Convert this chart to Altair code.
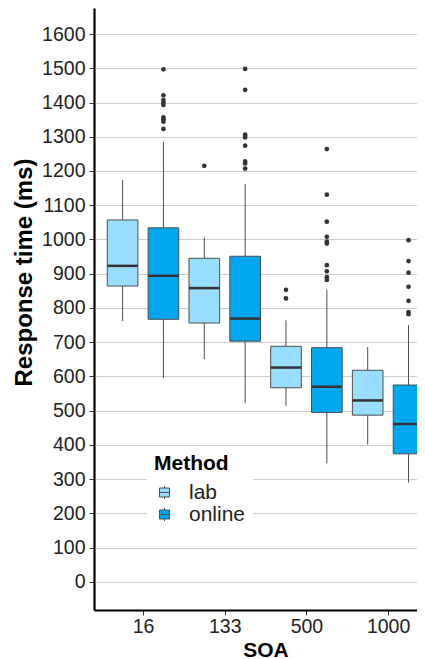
import json
import altair as alt
import pandas as pd

# ---- data ----
soa = ["16", "133", "500", "1000"]
methods = ["lab", "online"]

lab_lower = [762, 651, 514, 401]
lab_q1 = [864, 756, 567, 487]
lab_median = [923, 858, 626, 530]
lab_q3 = [1057, 945, 688, 618]
lab_upper = [1174, 1006, 764, 686]

online_lower = [595, 522, 346, 290]
online_q1 = [767, 703, 495, 374]
online_median = [894, 769, 570, 461]
online_q3 = [1034, 951, 684, 575]
online_upper = [1286, 1162, 853, 750]

lab_outliers = {"16": [], "133": [1215], "500": [853, 828], "1000": []}
online_outliers = {
    "16": [1497, 1421, 1407, 1400, 1393, 1357, 1351, 1344, 1323],
    "133": [1498, 1437, 1306, 1302, 1298, 1274, 1228, 1222, 1207],
    "500": [1264, 1131, 1052, 1008, 994, 988, 925, 907, 890, 882],
    "1000": [998, 937, 903, 862, 821, 788, 782],
}

y_ticks = list(range(0, 1601, 100))
colors = ["#99DDFF", "#00A6F0"]

# ---- tables ----
rows = []
for m, lo, q1, md, q3, up in [
    ("lab", lab_lower, lab_q1, lab_median, lab_q3, lab_upper),
    ("online", online_lower, online_q1, online_median, online_q3, online_upper),
]:
    for i, s in enumerate(soa):
        rows.append(dict(soa=s, idx=i + 1, method=m, lower=lo[i], q1=q1[i],
                         median=md[i], q3=q3[i], upper=up[i]))
summary = pd.DataFrame(rows)

orows = []
for m, d in [("lab", lab_outliers), ("online", online_outliers)]:
    for i, s in enumerate(soa):
        for v in d[s]:
            orows.append(dict(soa=s, idx=i + 1, method=m, value=v))
outl = pd.DataFrame(orows)

FONT = "Liberation Sans"

xscale = alt.Scale(domain=[0.4, 4.3535], nice=False, zero=False)
yscale = alt.Scale(domain=[-82, 1676], nice=False, zero=False)

xaxis = alt.Axis(
    values=[1, 2, 3, 4],
    labelExpr=f"{json.dumps(soa)}[datum.value - 1]",
    title="SOA", grid=False,
    titleX=171.5, titleY=46, titleBaseline="alphabetic", titleAlign="center",
    titleAnchor="start",
    labelPadding=2,
)
yaxis = alt.Axis(
    values=y_ticks, format="d", title="Response time (ms)", grid=True,
    titleX=-63, titleY=264, titleBaseline="alphabetic", titleAlign="center",
    titleAngle=270, titleAnchor="start",
    labelPadding=4,
)


def X(f):
    return alt.X(f, type="quantitative", scale=xscale, axis=xaxis)


def Y(f):
    return alt.Y(f, type="quantitative", scale=yscale, axis=yaxis)


calc = dict(
    xc="datum.idx + (datum.method == 'lab' ? -0.25 : 0.25)",
)
calc2 = dict(xl="datum.xc - 0.1875", xr="datum.xc + 0.1875")

base = alt.Chart(summary).transform_calculate(**calc).transform_calculate(**calc2)

whisk_lo = base.mark_rule(color="#4D4D4D", strokeWidth=1, clip=True).encode(
    x=X("xc"), y=Y("lower"), y2="q1:Q")
whisk_hi = base.mark_rule(color="#4D4D4D", strokeWidth=1, clip=True).encode(
    x=X("xc"), y=Y("q3"), y2="upper:Q")

box_path = ("M-0.77,-0.69H0.77V0.69H-0.77Z M-0.77,0H0.77 "
            "M0,-0.69V-1 M0,0.69V1")

boxes = base.mark_rect(stroke="#4D4D4D", strokeWidth=1, clip=True, opacity=1).encode(
    x=X("xl"), x2="xr:Q", y=Y("q1"), y2="q3:Q",
    fill=alt.Fill("method:N",
                  scale=alt.Scale(domain=methods, range=colors),
                  legend=alt.Legend(
                      orient="none", legendX=53, legendY=438,
                      title="Method", titleFontSize=21, titleFontWeight="bold",
                      titleFont=FONT, titleColor="black", titlePadding=8,
                      labelFontSize=21, labelFont=FONT, labelColor="#222222",
                      labelOffset=14, symbolType=box_path, symbolSize=169,
                      symbolStrokeColor="#4D4D4D", symbolStrokeWidth=1,
                      symbolOpacity=1, rowPadding=0, padding=7,
                      fillColor="white",
                  )),
)

medians = base.mark_rule(color="#333333", strokeWidth=2.5, clip=True).encode(
    x=X("xl"), x2="xr:Q", y=Y("median"))

points = alt.Chart(outl).transform_calculate(**calc).mark_circle(
    color="#333333", size=22, opacity=1, clip=True).encode(
    x=X("xc"), y=Y("value"))

chart = alt.layer(whisk_lo, whisk_hi, boxes, medians, points).properties(
    width=323, height=602,
    padding={"left": 86, "top": 0, "right": 0, "bottom": 51},
    autosize=alt.AutoSizeParams(type="none"),
).configure_view(stroke=None).configure_axis(
    labelFont=FONT, titleFont=FONT, labelFontSize=19.5, labelColor="#222222",
    titleFontSize=21, titleFontWeight="bold", titleColor="black",
    domainColor="black", domainWidth=2.2, tickColor="#333333", tickSize=5,
    tickWidth=1, gridColor="#CCCCCC", gridWidth=1,
).configure_axisY(titleFontSize=24)

chart.save("out.html", embed_options={"renderer": "svg", "actions": False})
